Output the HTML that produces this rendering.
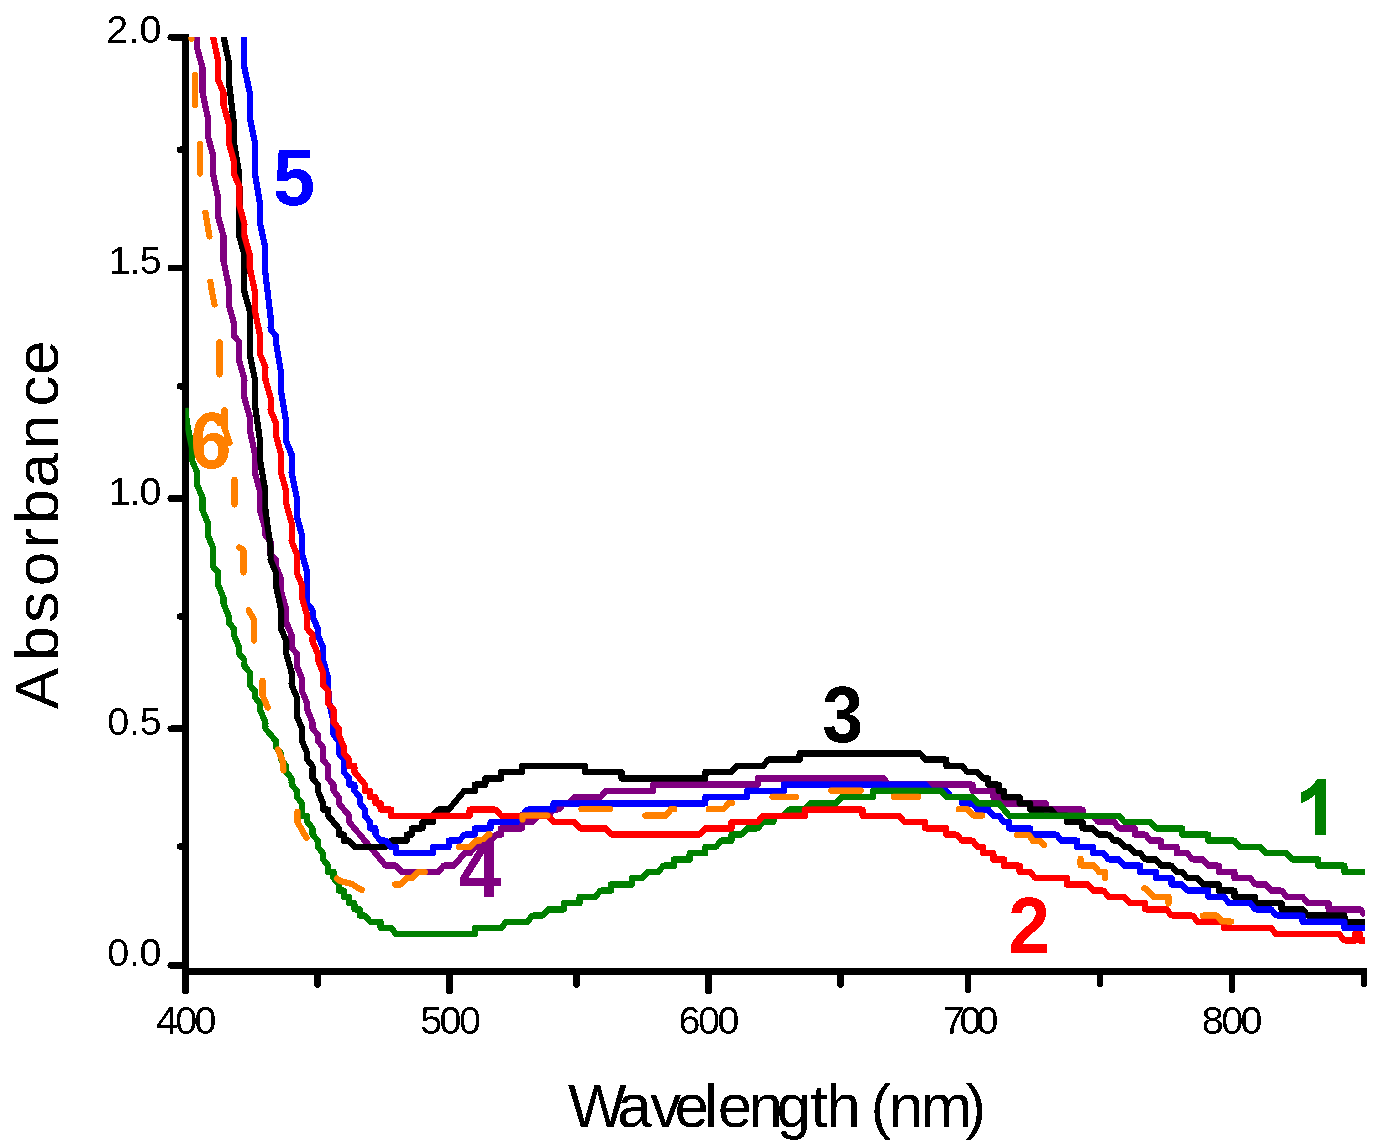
<!DOCTYPE html>
<html><head><meta charset="utf-8"><title>Absorbance vs Wavelength</title>
<style>html,body{margin:0;padding:0;background:#fff;overflow:hidden}svg{display:block}text{font-family:"Liberation Sans",sans-serif}</style>
</head><body>
<svg width="1384" height="1148" viewBox="0 0 1384 1148">
<rect width="1384" height="1148" fill="#fff"/>
<defs><clipPath id="plot"><rect x="185.3" y="37" width="1179.7" height="940"/></clipPath>
<filter id="crisp" filterUnits="userSpaceOnUse" x="0" y="0" width="1384" height="1148" color-interpolation-filters="sRGB"><feComponentTransfer><feFuncA type="discrete" tableValues="0 1"/></feComponentTransfer></filter></defs>
<g filter="url(#crisp)">
<g stroke="#000" fill="none" shape-rendering="crispEdges">
<line x1="185.5" y1="34" x2="185.5" y2="975" stroke-width="7"/>
<line x1="182" y1="971.5" x2="1367" y2="971.5" stroke-width="7"/>
</g>
<g stroke="#000" stroke-width="6.4" fill="none" stroke-linecap="round">
<line x1="170.7" y1="37.3" x2="184" y2="37.3"/>
<line x1="170.7" y1="268" x2="184" y2="268"/>
<line x1="170.7" y1="498.5" x2="184" y2="498.5"/>
<line x1="170.7" y1="728.6" x2="184" y2="728.6"/>
<line x1="170.7" y1="965.4" x2="184" y2="965.4"/>
<line x1="180" y1="149.7" x2="184" y2="149.7"/>
<line x1="180" y1="386.3" x2="184" y2="386.3"/>
<line x1="180" y1="616.5" x2="184" y2="616.5"/>
<line x1="180" y1="846.5" x2="184" y2="846.5"/>
<line x1="449.5" y1="973" x2="449.5" y2="990.6" stroke-width="7"/>
<line x1="708.5" y1="973" x2="708.5" y2="990.6" stroke-width="7"/>
<line x1="968" y1="973" x2="968" y2="990.6" stroke-width="6"/>
<line x1="1232" y1="973" x2="1232" y2="990.6" stroke-width="6"/>
<line x1="185.5" y1="973" x2="185.5" y2="990.4" stroke-width="7"/>
<line x1="317.5" y1="973" x2="317.5" y2="984.2" stroke-width="7"/>
<line x1="576.5" y1="973" x2="576.5" y2="984.2" stroke-width="7"/>
<line x1="840.5" y1="973" x2="840.5" y2="984.2" stroke-width="7"/>
<line x1="1100" y1="973" x2="1100" y2="984.2" stroke-width="6"/>
<line x1="1364" y1="973" x2="1364" y2="984.2" stroke-width="6"/>
</g>
<text x="106.3 128.4 139.6" y="43.2" font-size="39.5" fill="#000">2.0</text>
<text x="108.5 129.6 139.7" y="274" font-size="39.5" fill="#000">1.5</text>
<text x="108.5 129.5 139.6" y="505" font-size="39.5" fill="#000">1.0</text>
<text x="107.2 128.9 139.7" y="735" font-size="39.5" fill="#000">0.5</text>
<text x="107.2 128.9 139.6" y="965.9" font-size="39.5" fill="#000">0.0</text>
<text x="156.0 175.3 194.6" y="1033.9" font-size="39.5" fill="#000">400</text>
<text x="420.3 439.6 459.0" y="1033.9" font-size="39.5" fill="#000">500</text>
<text x="678.5 698.0 717.6" y="1033.9" font-size="39.5" fill="#000">600</text>
<text x="942.7 959.6 976.5" y="1033.9" font-size="39.5" fill="#000">700</text>
<text x="1201.8 1221.2 1240.6" y="1033.9" font-size="39.5" fill="#000">800</text>
<text x="568.0 617.2 650.3 674.6 704.2 717.8 748.6 776.5 810.6 826.4 860.0 870.5 888.8 920.4 965.6" y="1126.8" font-size="62" fill="#000">Wavelength (nm)</text>
<text x="-709.2 -660.8 -622.7 -586.2 -548.6 -523.7 -487.4 -449.0 -406.4 -375.1" y="58" font-size="62" fill="#000" transform="rotate(-90)">Absorbance</text>
<g clip-path="url(#plot)">
<path d="M192.0,-25.9 L197.3,11.5 L197.3,48.9 L202.5,67.6 L202.5,92.5 L207.8,117.5 L207.8,136.2 L213.0,154.9 L213.0,173.6 L218.2,198.5 L218.2,217.2 L223.5,235.9 L223.5,260.9 L228.7,285.8 L228.7,304.5 L233.9,323.2 L233.9,335.7 L239.2,341.9 L239.2,360.6 L244.4,379.3 L244.4,398.0 L249.7,416.7 L249.7,429.2 L254.9,454.2 L254.9,472.9 L260.1,491.6 L260.1,510.3 L265.4,529.0 L265.4,535.2 L270.6,541.4 L270.6,553.9 L275.9,560.1 L275.9,566.4 L281.1,578.9 L281.1,591.3 L286.3,610.0 L286.3,622.5 L291.6,635.0 L291.6,647.4 L296.8,653.7 L296.8,666.1 L302.0,678.6 L302.0,691.1 L307.3,703.6 L307.3,709.8 L312.5,722.3 L312.5,728.5 L317.8,734.7 L317.8,741.0 L323.0,747.2 L323.0,759.7 L328.2,765.9 L328.2,778.4 L333.5,784.6 L333.5,790.8 L338.7,797.1 L338.7,803.3 L349.2,815.8 L349.2,822.0 L385.8,865.7 L396.3,865.7 L401.6,871.9 L438.2,871.9 L443.5,865.7 L453.9,865.7 L464.4,853.2 L469.6,853.2 L474.9,847.0 L480.1,847.0 L485.4,840.7 L490.6,840.7 L495.8,834.5 L501.1,834.5 L501.1,828.3 L522.0,828.3 L522.0,822.0 L532.5,822.0 L537.7,815.8 L548.2,815.8 L553.5,809.5 L558.7,809.5 L563.9,803.3 L569.2,803.3 L574.4,797.1 L600.6,797.1 L605.8,790.8 L653.0,790.8 L653.0,784.6 L757.7,784.6 L757.7,778.4 L883.4,778.4 L888.7,784.6 L972.5,784.6 L972.5,790.8 L993.4,790.8 L993.4,797.1 L998.7,797.1 L1003.9,803.3 L1045.8,803.3 L1045.8,809.5 L1082.5,809.5 L1082.5,815.8 L1092.9,815.8 L1098.2,822.0 L1113.9,822.0 L1119.1,828.3 L1134.8,828.3 L1134.8,834.5 L1145.3,834.5 L1150.6,840.7 L1161.0,840.7 L1161.0,847.0 L1176.7,847.0 L1176.7,853.2 L1187.2,853.2 L1192.5,859.4 L1202.9,859.4 L1208.2,865.7 L1218.7,865.7 L1218.7,871.9 L1234.4,871.9 L1234.4,878.1 L1250.1,878.1 L1255.3,884.4 L1265.8,884.4 L1271.0,890.6 L1281.5,890.6 L1286.7,896.8 L1302.5,896.8 L1307.7,903.1 L1328.6,903.1 L1328.6,909.3 L1360.1,909.3 L1365.3,915.5" stroke="#800080" stroke-width="6.2" fill="none" stroke-linejoin="round" stroke-linecap="butt"/>
<path d="M218.2,-38.4 L223.5,-1.0 L223.5,36.4 L228.7,61.3 L228.7,80.1 L233.9,123.7 L233.9,142.4 L239.2,173.6 L239.2,235.9 L244.4,254.6 L244.4,292.0 L249.7,310.8 L249.7,354.4 L254.9,379.3 L254.9,404.3 L260.1,441.7 L260.1,460.4 L265.4,491.6 L265.4,510.3 L270.6,547.7 L270.6,560.1 L275.9,572.6 L275.9,585.1 L281.1,610.0 L281.1,628.7 L286.3,641.2 L286.3,653.7 L291.6,672.4 L291.6,684.9 L296.8,697.3 L296.8,716.0 L302.0,728.5 L302.0,741.0 L307.3,753.4 L307.3,759.7 L312.5,765.9 L312.5,778.4 L317.8,784.6 L317.8,790.8 L323.0,803.3 L323.0,809.5 L328.2,809.5 L328.2,815.8 L338.7,828.3 L338.7,834.5 L343.9,834.5 L343.9,840.7 L349.2,840.7 L354.4,847.0 L385.8,847.0 L391.1,840.7 L406.8,840.7 L406.8,834.5 L412.0,834.5 L412.0,828.3 L422.5,828.3 L422.5,822.0 L433.0,822.0 L433.0,815.8 L438.2,809.5 L448.7,809.5 L464.4,790.8 L474.9,790.8 L474.9,784.6 L485.4,784.6 L485.4,778.4 L501.1,778.4 L501.1,772.1 L522.0,772.1 L522.0,765.9 L584.9,765.9 L584.9,772.1 L621.5,772.1 L621.5,778.4 L705.3,778.4 L705.3,772.1 L731.5,772.1 L736.8,765.9 L763.0,765.9 L768.2,759.7 L799.6,759.7 L799.6,753.4 L920.1,753.4 L925.3,759.7 L946.3,759.7 L946.3,765.9 L962.0,765.9 L967.2,772.1 L977.7,772.1 L983.0,778.4 L988.2,778.4 L988.2,784.6 L998.7,784.6 L998.7,790.8 L1003.9,790.8 L1003.9,797.1 L1019.6,797.1 L1019.6,803.3 L1030.1,803.3 L1030.1,809.5 L1051.0,809.5 L1056.3,815.8 L1066.8,815.8 L1066.8,822.0 L1082.5,822.0 L1082.5,828.3 L1092.9,828.3 L1098.2,834.5 L1108.7,834.5 L1113.9,840.7 L1119.1,840.7 L1124.4,847.0 L1129.6,847.0 L1134.8,853.2 L1140.1,853.2 L1145.3,859.4 L1155.8,859.4 L1161.0,865.7 L1171.5,865.7 L1176.7,871.9 L1182.0,871.9 L1187.2,878.1 L1197.7,878.1 L1202.9,884.4 L1218.7,884.4 L1218.7,890.6 L1234.4,890.6 L1234.4,896.8 L1255.3,896.8 L1255.3,903.1 L1281.5,903.1 L1281.5,909.3 L1302.5,909.3 L1307.7,915.5 L1344.4,915.5 L1344.4,921.8 L1365.3,921.8" stroke="#000000" stroke-width="6.2" fill="none" stroke-linejoin="round" stroke-linecap="butt"/>
<path d="M239.2,-19.7 L244.4,23.9 L244.4,67.6 L249.7,92.5 L249.7,117.5 L254.9,142.4 L254.9,173.6 L260.1,204.8 L260.1,223.5 L265.4,248.4 L265.4,273.3 L270.6,317.0 L270.6,329.5 L275.9,335.7 L275.9,341.9 L281.1,373.1 L281.1,391.8 L286.3,423.0 L286.3,441.7 L291.6,454.2 L291.6,472.9 L296.8,497.8 L296.8,516.5 L302.0,535.2 L302.0,553.9 L307.3,572.6 L307.3,603.8 L312.5,610.0 L312.5,616.3 L317.8,628.7 L317.8,635.0 L323.0,647.4 L323.0,659.9 L328.2,678.6 L328.2,697.3 L333.5,722.3 L333.5,734.7 L338.7,741.0 L338.7,753.4 L343.9,759.7 L343.9,772.1 L349.2,778.4 L349.2,784.6 L354.4,784.6 L354.4,790.8 L359.7,797.1 L359.7,803.3 L364.9,809.5 L364.9,815.8 L370.1,822.0 L370.1,828.3 L375.4,828.3 L375.4,834.5 L380.6,840.7 L385.8,840.7 L391.1,847.0 L396.3,847.0 L396.3,853.2 L433.0,853.2 L433.0,847.0 L448.7,847.0 L448.7,840.7 L459.2,840.7 L464.4,834.5 L474.9,834.5 L474.9,828.3 L490.6,828.3 L490.6,822.0 L516.8,822.0 L516.8,815.8 L522.0,815.8 L527.3,809.5 L553.5,809.5 L553.5,803.3 L705.3,803.3 L705.3,797.1 L747.3,797.1 L747.3,790.8 L783.9,790.8 L783.9,784.6 L925.3,784.6 L930.6,790.8 L946.3,790.8 L951.5,797.1 L962.0,797.1 L962.0,803.3 L972.5,803.3 L977.7,809.5 L988.2,809.5 L993.4,815.8 L998.7,815.8 L1003.9,822.0 L1009.1,822.0 L1009.1,828.3 L1030.1,828.3 L1030.1,834.5 L1056.3,834.5 L1061.5,840.7 L1077.2,840.7 L1077.2,847.0 L1092.9,847.0 L1092.9,853.2 L1103.4,853.2 L1108.7,859.4 L1119.1,859.4 L1124.4,865.7 L1140.1,865.7 L1140.1,871.9 L1155.8,871.9 L1155.8,878.1 L1171.5,878.1 L1171.5,884.4 L1182.0,884.4 L1187.2,890.6 L1208.2,890.6 L1208.2,896.8 L1223.9,896.8 L1229.1,903.1 L1250.1,903.1 L1255.3,909.3 L1271.0,909.3 L1276.3,915.5 L1302.5,915.5 L1302.5,921.8 L1344.4,921.8 L1344.4,928.0 L1365.3,928.0" stroke="#0000ff" stroke-width="6.2" fill="none" stroke-linejoin="round" stroke-linecap="butt"/>
<path d="M185.5,408.0 L186.8,423.0 L192.0,447.9 L192.0,460.4 L197.3,472.9 L197.3,485.3 L202.5,497.8 L202.5,510.3 L207.8,522.7 L207.8,535.2 L213.0,547.7 L213.0,566.4 L218.2,572.6 L218.2,585.1 L223.5,597.6 L223.5,603.8 L228.7,616.3 L228.7,622.5 L233.9,628.7 L233.9,635.0 L239.2,647.4 L239.2,653.7 L244.4,659.9 L244.4,666.1 L249.7,672.4 L249.7,684.9 L254.9,691.1 L254.9,697.3 L260.1,703.6 L260.1,709.8 L265.4,722.3 L265.4,728.5 L275.9,741.0 L275.9,747.2 L281.1,753.4 L281.1,759.7 L286.3,765.9 L286.3,772.1 L291.6,778.4 L291.6,784.6 L296.8,790.8 L296.8,797.1 L302.0,803.3 L302.0,815.8 L307.3,815.8 L307.3,822.0 L312.5,828.3 L312.5,834.5 L317.8,840.7 L317.8,847.0 L323.0,853.2 L323.0,859.4 L328.2,865.7 L328.2,871.9 L333.5,871.9 L333.5,878.1 L338.7,884.4 L338.7,890.6 L343.9,890.6 L343.9,896.8 L349.2,896.8 L349.2,903.1 L354.4,903.1 L354.4,909.3 L359.7,909.3 L359.7,915.5 L364.9,915.5 L370.1,921.8 L380.6,921.8 L380.6,928.0 L391.1,928.0 L396.3,934.2 L474.9,934.2 L474.9,928.0 L501.1,928.0 L506.3,921.8 L527.3,921.8 L532.5,915.5 L543.0,915.5 L548.2,909.3 L563.9,909.3 L563.9,903.1 L579.6,903.1 L579.6,896.8 L595.4,896.8 L600.6,890.6 L611.1,890.6 L611.1,884.4 L632.0,884.4 L632.0,878.1 L642.5,878.1 L647.7,871.9 L658.2,871.9 L663.4,865.7 L673.9,865.7 L673.9,859.4 L689.6,859.4 L689.6,853.2 L705.3,853.2 L705.3,847.0 L715.8,847.0 L721.1,840.7 L731.5,840.7 L731.5,834.5 L742.0,834.5 L747.3,828.3 L757.7,828.3 L763.0,822.0 L773.4,822.0 L773.4,815.8 L783.9,815.8 L789.2,809.5 L804.9,809.5 L810.1,803.3 L836.3,803.3 L841.5,797.1 L873.0,797.1 L873.0,790.8 L941.0,790.8 L946.3,797.1 L972.5,797.1 L977.7,803.3 L998.7,803.3 L1009.1,815.8 L1119.1,815.8 L1124.4,822.0 L1150.6,822.0 L1155.8,828.3 L1182.0,828.3 L1182.0,834.5 L1208.2,834.5 L1208.2,840.7 L1234.4,840.7 L1239.6,847.0 L1260.6,847.0 L1265.8,853.2 L1286.7,853.2 L1292.0,859.4 L1318.2,859.4 L1318.2,865.7 L1344.4,865.7 L1344.4,871.9 L1365.3,871.9" stroke="#008000" stroke-width="6.2" fill="none" stroke-linejoin="round" stroke-linecap="butt"/>
<path d="M213.0,-7.2 L213.0,36.4 L218.2,61.3 L218.2,80.1 L223.5,92.5 L223.5,105.0 L228.7,123.7 L228.7,142.4 L233.9,161.1 L233.9,173.6 L239.2,186.0 L239.2,204.8 L244.4,223.5 L244.4,235.9 L249.7,254.6 L249.7,267.1 L254.9,292.0 L254.9,310.8 L260.1,335.7 L260.1,354.4 L265.4,366.9 L265.4,379.3 L270.6,398.0 L270.6,410.5 L275.9,423.0 L275.9,435.4 L281.1,454.2 L281.1,472.9 L286.3,491.6 L286.3,504.0 L291.6,522.7 L291.6,541.4 L296.8,553.9 L296.8,572.6 L302.0,585.1 L302.0,597.6 L307.3,616.3 L307.3,628.7 L312.5,635.0 L312.5,641.2 L317.8,653.7 L317.8,659.9 L323.0,672.4 L323.0,684.9 L328.2,691.1 L328.2,703.6 L333.5,709.8 L333.5,722.3 L338.7,728.5 L338.7,734.7 L343.9,747.2 L343.9,753.4 L349.2,759.7 L349.2,765.9 L354.4,765.9 L354.4,772.1 L364.9,784.6 L364.9,790.8 L370.1,790.8 L370.1,797.1 L375.4,797.1 L375.4,803.3 L380.6,803.3 L380.6,809.5 L391.1,809.5 L391.1,815.8 L469.6,815.8 L469.6,809.5 L495.8,809.5 L501.1,815.8 L548.2,815.8 L553.5,822.0 L574.4,822.0 L579.6,828.3 L605.8,828.3 L611.1,834.5 L700.1,834.5 L705.3,828.3 L731.5,828.3 L731.5,822.0 L757.7,822.0 L763.0,815.8 L804.9,815.8 L804.9,809.5 L862.5,809.5 L862.5,815.8 L899.1,815.8 L904.4,822.0 L925.3,822.0 L925.3,828.3 L946.3,828.3 L946.3,834.5 L956.8,834.5 L962.0,840.7 L972.5,840.7 L977.7,847.0 L983.0,847.0 L983.0,853.2 L993.4,853.2 L993.4,859.4 L1003.9,859.4 L1003.9,865.7 L1019.6,865.7 L1019.6,871.9 L1030.1,871.9 L1035.3,878.1 L1066.8,878.1 L1066.8,884.4 L1087.7,884.4 L1092.9,890.6 L1103.4,890.6 L1108.7,896.8 L1124.4,896.8 L1129.6,903.1 L1145.3,903.1 L1145.3,909.3 L1166.3,909.3 L1171.5,915.5 L1192.5,915.5 L1197.7,921.8 L1223.9,921.8 L1223.9,928.0 L1271.0,928.0 L1276.3,934.2 L1339.1,934.2 L1344.4,940.5 L1354.8,940.5 L1354.8,934.2 L1360.1,934.2 L1360.1,940.5 L1365.3,940.5" stroke="#ff0000" stroke-width="6.2" fill="none" stroke-linejoin="round" stroke-linecap="butt"/>
<path d="M191.0,36.0 L191.5,39.0" stroke="#ff8000" stroke-width="6.2" fill="none" stroke-linejoin="round" stroke-linecap="round"/>
<path d="M195.0,75.1 L195.0,104.9" stroke="#ff8000" stroke-width="6.2" fill="none" stroke-linejoin="round" stroke-linecap="round"/>
<path d="M200.0,143.6 L200.0,173.4" stroke="#ff8000" stroke-width="6.2" fill="none" stroke-linejoin="round" stroke-linecap="round"/>
<path d="M205.4,212.6 L207.0,222.0 L209.5,236.4" stroke="#ff8000" stroke-width="6.2" fill="none" stroke-linejoin="round" stroke-linecap="round"/>
<path d="M210.4,281.6 L212.0,292.0 L214.5,304.5" stroke="#ff8000" stroke-width="6.2" fill="none" stroke-linejoin="round" stroke-linecap="round"/>
<path d="M219.5,342.1 L219.5,374.4" stroke="#ff8000" stroke-width="6.2" fill="none" stroke-linejoin="round" stroke-linecap="round"/>
<path d="M224.5,410.1 L224.5,428.0 L229.6,442.5" stroke="#ff8000" stroke-width="6.2" fill="none" stroke-linejoin="round" stroke-linecap="round"/>
<path d="M234.5,479.6 L234.5,504.4" stroke="#ff8000" stroke-width="6.2" fill="none" stroke-linejoin="round" stroke-linecap="round"/>
<path d="M239.2,547.4 L243.5,550.0 L243.5,572.4" stroke="#ff8000" stroke-width="6.2" fill="none" stroke-linejoin="round" stroke-linecap="round"/>
<path d="M248.7,610.3 L254.0,620.0 L254.0,640.4" stroke="#ff8000" stroke-width="6.2" fill="none" stroke-linejoin="round" stroke-linecap="round"/>
<path d="M262.5,680.6 L262.5,695.0 L267.8,707.6" stroke="#ff8000" stroke-width="6.2" fill="none" stroke-linejoin="round" stroke-linecap="round"/>
<path d="M278.0,749.4 L283.0,762.0 L283.4,770.4" stroke="#ff8000" stroke-width="6.2" fill="none" stroke-linejoin="round" stroke-linecap="round"/>
<path d="M297.5,811.6 L297.5,822.0 L303.0,832.0 L306.6,837.8" stroke="#ff8000" stroke-width="6.2" fill="none" stroke-linejoin="round" stroke-linecap="round"/>
<path d="M337.0,878.6 L340.0,881.0 L352.0,884.0 L358.0,888.0 L361.7,889.8" stroke="#ff8000" stroke-width="6.2" fill="none" stroke-linejoin="round" stroke-linecap="round"/>
<path d="M395.1,884.4 L401.0,884.4 L407.0,878.0 L412.0,878.0 L418.0,872.0 L424.9,872.0" stroke="#ff8000" stroke-width="6.2" fill="none" stroke-linejoin="round" stroke-linecap="round"/>
<path d="M458.9,846.9 L470.0,846.9 L476.0,840.6 L482.0,840.6 L488.0,834.4 L489.4,834.4" stroke="#ff8000" stroke-width="6.2" fill="none" stroke-linejoin="round" stroke-linecap="round"/>
<path d="M522.5,819.4 L522.5,815.5 L547.4,815.5" stroke="#ff8000" stroke-width="6.2" fill="none" stroke-linejoin="round" stroke-linecap="round"/>
<path d="M581.4,809.2 L609.9,809.2" stroke="#ff8000" stroke-width="6.2" fill="none" stroke-linejoin="round" stroke-linecap="round"/>
<path d="M645.1,815.5 L666.0,815.5 L671.0,809.2 L674.4,809.2" stroke="#ff8000" stroke-width="6.2" fill="none" stroke-linejoin="round" stroke-linecap="round"/>
<path d="M708.6,809.2 L723.5,809.2 L729.0,803.0 L732.1,803.0" stroke="#ff8000" stroke-width="6.2" fill="none" stroke-linejoin="round" stroke-linecap="round"/>
<path d="M772.4,796.8 L795.9,796.8" stroke="#ff8000" stroke-width="6.2" fill="none" stroke-linejoin="round" stroke-linecap="round"/>
<path d="M831.1,790.5 L860.9,790.5" stroke="#ff8000" stroke-width="6.2" fill="none" stroke-linejoin="round" stroke-linecap="round"/>
<path d="M893.6,796.8 L918.4,796.8" stroke="#ff8000" stroke-width="6.2" fill="none" stroke-linejoin="round" stroke-linecap="round"/>
<path d="M958.6,809.2 L967.0,809.2 L973.5,815.5 L982.1,815.5" stroke="#ff8000" stroke-width="6.2" fill="none" stroke-linejoin="round" stroke-linecap="round"/>
<path d="M1017.1,835.0 L1029.0,835.0 L1033.0,841.0 L1040.0,841.0 L1044.2,845.2" stroke="#ff8000" stroke-width="6.2" fill="none" stroke-linejoin="round" stroke-linecap="round"/>
<path d="M1080.6,858.9 L1080.6,865.3 L1094.0,865.3 L1099.0,871.9 L1105.0,871.9 L1105.0,878.0" stroke="#ff8000" stroke-width="6.2" fill="none" stroke-linejoin="round" stroke-linecap="round"/>
<path d="M1144.1,888.3 L1146.0,888.5 L1154.0,896.8 L1168.5,896.8 L1168.5,903.4" stroke="#ff8000" stroke-width="6.2" fill="none" stroke-linejoin="round" stroke-linecap="round"/>
<path d="M1202.6,915.5 L1217.0,915.5 L1222.0,921.5 L1231.4,921.5" stroke="#ff8000" stroke-width="6.2" fill="none" stroke-linejoin="round" stroke-linecap="round"/>
</g>
<text transform="translate(275.4,205.2) scale(0.955,1)" x="-2.4" y="0" font-size="79.5" font-weight="bold" fill="#0000ff">5</text>
<text transform="translate(193.0,468.0) scale(0.93,1)" x="-3.0" y="0" font-size="79.5" font-weight="bold" fill="#ff8000">6</text>
<text transform="translate(460.0,896.6) scale(0.97,1)" x="-1.2" y="0" font-size="79.5" font-weight="bold" fill="#800080">4</text>
<text transform="translate(823.8,742.0) scale(0.925,1)" x="-1.8" y="0" font-size="79.5" font-weight="bold" fill="#000000">3</text>
<text transform="translate(1010.8,952.5) scale(0.945,1)" x="-2.8" y="0" font-size="79.5" font-weight="bold" fill="#ff0000">2</text>
<path d="M1326,779 L1326,835 L1315.4,835 L1315.4,794.6 Q1309,800.6 1301,803.8 L1301,792.8 Q1311.5,788.5 1317.3,779 Z" fill="#008000"/>
</g>
</svg></body></html>
